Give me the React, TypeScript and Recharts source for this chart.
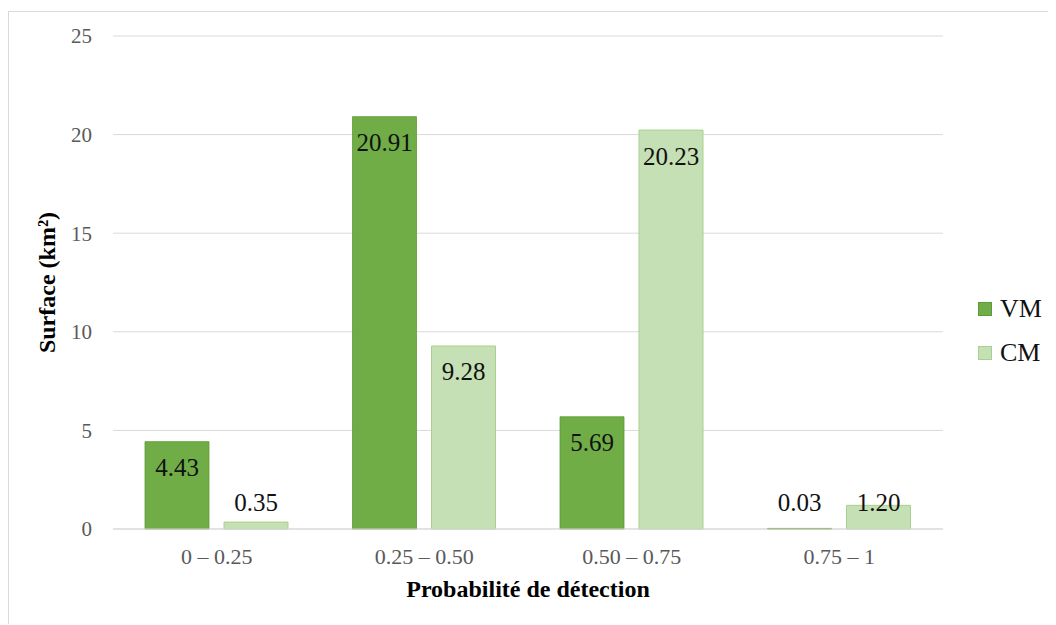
import { BarChart, Bar, XAxis, YAxis, CartesianGrid, Legend, LabelList } from 'recharts'

// ─── data ────────────────────
const categories = ['0 – 0.25', '0.25 – 0.50', '0.50 – 0.75', '0.75 – 1']
const vmValues = [4.43, 20.91, 5.69, 0.03]
const cmValues = [0.35, 9.28, 20.23, 1.2]
const yTicks = [0, 5, 10, 15, 20, 25]

const VM_COLOR = '#70AD47'
const CM_COLOR = '#C5E0B4'
const FONT = "'Liberation Serif', serif"

const data = categories.map((cat, i) => ({
  cat,
  VM: vmValues[i],
  CM: cmValues[i],
}))

// Excel-like "inside end" label, pushed up when the bar is too short
function ValueLabel(props: any) {
  const { x, y, width, height, value } = props
  const cy = Math.min(y + 26, y + height - 27)
  return (
    <text
      x={x + width / 2}
      y={cy}
      textAnchor="middle"
      dominantBaseline="central"
      style={{ fontFamily: FONT, fontSize: 25 }}
      fill="#111"
    >
      {Number(value).toFixed(2)}
    </text>
  )
}

function YTitle(props: any) {
  const vb = props.viewBox
  const cy = vb.y + vb.height / 2
  return (
    <text
      x={38}
      y={cy}
      transform={`rotate(-90, 38, ${cy})`}
      textAnchor="middle"
      dominantBaseline="central"
      style={{ fontFamily: FONT, fontSize: 24, fontWeight: 'bold' }}
      fill="#000"
    >
      Surface (km²)
    </text>
  )
}

function LegendBox() {
  const items = [
    { name: 'VM', color: VM_COLOR, stroke: '#5E9A39' },
    { name: 'CM', color: CM_COLOR, stroke: '#A9D18E' },
  ]
  return (
    <div style={{ fontFamily: FONT }}>
      {items.map((it) => (
        <div key={it.name} style={{ display: 'flex', alignItems: 'center', height: 44 }}>
          <span
            style={{
              width: 12,
              height: 12,
              background: it.color,
              border: `1px solid ${it.stroke}`,
              display: 'inline-block',
              marginRight: 8,
            }}
          />
          <span style={{ fontSize: 26, color: '#111', fontFamily: FONT }}>{it.name}</span>
        </div>
      ))}
    </div>
  )
}

export default function App() {
  return (
    <div style={{ paddingTop: 3 }}>
      <div
        style={{
          width: 1040,
          height: 612,
          borderLeft: '1px solid #d9d9d9',
          borderTop: '1px solid #d9d9d9',
          background: '#fff',
        }}
      >
        <BarChart
          width={1040}
          height={612}
          data={data}
          margin={{ top: 24, right: 26, left: 0, bottom: 15 }}
          barSize={64}
          barGap={15}
        >
          <CartesianGrid vertical={false} stroke="#d9d9d9" />
          <XAxis
            dataKey="cat"
            tickLine={false}
            tickSize={0}
            tickMargin={19}
            axisLine={{ stroke: '#d9d9d9' }}
            height={80}
            tick={{ fontSize: 22, fill: '#595959', fontFamily: FONT }}
            label={{
              value: 'Probabilité de détection',
              position: 'insideBottom',
              offset: 12,
              fontSize: 24,
              fontWeight: 'bold',
              fill: '#000',
              fontFamily: FONT,
            }}
          />
          <YAxis
            width={104}
            domain={[0, 25]}
            ticks={yTicks}
            tickLine={false}
            axisLine={false}
            tickSize={0}
            tickMargin={21}
            tick={{ fontSize: 21, fill: '#595959', fontFamily: FONT }}
            label={<YTitle />}
          />
          <Legend
            layout="vertical"
            align="right"
            verticalAlign="middle"
            content={<LegendBox />}
            wrapperStyle={{ left: 969, top: 275, width: 80 }}
          />
          <Bar dataKey="VM" fill={VM_COLOR} stroke="#5E9A39" strokeWidth={0.8} isAnimationActive={false}>
            <LabelList dataKey="VM" content={<ValueLabel />} />
          </Bar>
          <Bar dataKey="CM" fill={CM_COLOR} stroke="#A9D18E" strokeWidth={1} isAnimationActive={false}>
            <LabelList dataKey="CM" content={<ValueLabel />} />
          </Bar>
        </BarChart>
      </div>
    </div>
  )
}
